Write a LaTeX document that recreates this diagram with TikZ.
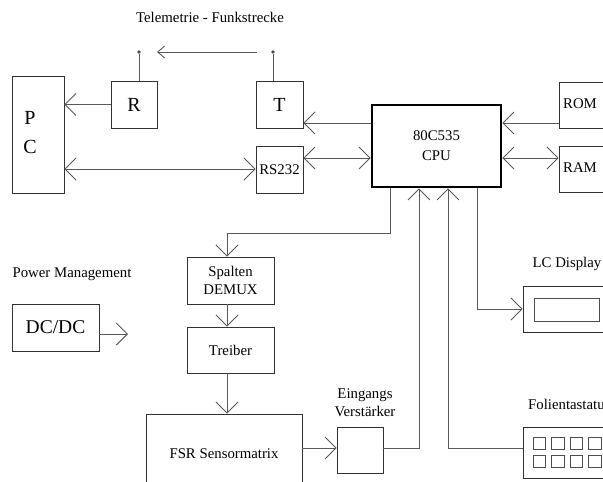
\documentclass[tikz,border=0pt]{standalone}
\usepackage{fontspec}
\setmainfont{Liberation Serif}
\usetikzlibrary{arrows.meta}
\begin{document}
\begin{tikzpicture}[x=1pt,y=-1pt,
  box/.style={draw=black!80,line width=0.9pt,inner sep=0pt,minimum width=#1},
  cpubox/.style={draw=black,line width=2.6pt,inner sep=0pt},
  conn/.style={draw=black!65,line width=0.9pt},
  arr/.style={conn,-{Straight Barb[length=11pt,width=22pt,line width=0.9pt]}},
  darr/.style={conn,{Straight Barb[length=11pt,width=22pt,line width=0.9pt]}-{Straight Barb[length=11pt,width=22pt,line width=0.9pt]}},
  sarr/.style={conn,-{Straight Barb[length=7pt,width=12pt,line width=0.9pt]}},
  txt/.style={font=\fontsize{14.8}{18}\selectfont,inner sep=0pt,align=center},
  big/.style={font=\fontsize{20}{29}\selectfont,inner sep=0pt,align=center},
  dot/.style={circle,fill=black!70,inner sep=0pt,minimum size=3.6pt}]
\clip (0,0) rectangle (603,482);
\fill[white] (0,0) rectangle (603,482);

% title
\node[txt] (tele) at (210,17) {Telemetrie - Funkstrecke};

% boxes
\node[box=52,minimum height=117] (pc) at (38,134.5) {};
\node[big] (pclabel) at (30,133) {P\\C};
\node[box=46,minimum height=47,big] (r) at (134,104.5) {R};
\node[box=47,minimum height=47,big] (t) at (279.5,104.5) {T};
\node[box=47,minimum height=47,txt] (rs) at (279.5,169.5) {RS232};
\node[cpubox,minimum width=129,minimum height=82,txt] (cpu) at (436.5,146) {80C535\\[2pt]CPU};
\node[box=61,minimum height=46] (rom) at (589.5,105) {};
\node[txt] (romlabel) at (580,104) {ROM};
\node[box=61,minimum height=46] (ram) at (589.5,169) {};
\node[txt] (ramlabel) at (580,168) {RAM};

% antennas
\node[dot] (ant1) at (139,52) {};
\node[dot] (ant2) at (273,52) {};
\draw[conn] (ant1) -- (ant1 |- r.north);
\draw[conn] (ant2) -- (ant2 |- t.north);
\coordinate (radiostart) at (257,52);
\coordinate (radioend) at (157,52);
\draw[sarr] (radiostart) -- (radioend);

% left side connections
\draw[arr] (r.west) -- (r.west -| pc.east);
\draw[darr] (pc.east |- 0,169) -- (rs.west |- 0,169);
\draw[arr] (cpu.west |- 0,123) -- (t.east |- 0,123);
\draw[darr] (rs.east |- 0,158) -- (cpu.west |- 0,158);
\draw[arr] (rom.west |- 0,123) -- (cpu.east |- 0,123);
\draw[darr] (cpu.east |- 0,158) -- (ram.west |- 0,158);

% power
\node[txt] (pm) at (72,274) {Power Management};
\node[box=87,minimum height=47,font=\fontsize{19.5}{22}\selectfont] (dc) at (55.5,327.5) {DC/DC};
\coordinate (dcout) at (128,334);
\draw[arr] (dc.east |- dcout) -- (dcout);

% demux chain
\node[box=87,minimum height=47,txt] (demux) at (230.5,280.5) {Spalten\\DEMUX};
\node[box=87,minimum height=46,txt] (treiber) at (230.5,350) {Treiber};
\node[box=156,minimum height=106] (fsr) at (224,467) {};
\node[txt] (fsrlabel) at (224,454) {FSR Sensormatrix};
\draw[arr] (cpu.south -| 390,0) -- (390,233) -- (227,233) -- (227,0 |- demux.north);
\draw[arr] (227,0 |- demux.south) -- (227,0 |- treiber.north);
\draw[arr] (227,0 |- treiber.south) -- (227,0 |- fsr.north);

% amplifier
\node[box=46,minimum height=46] (amp) at (360,450) {};
\node[txt] (amplabel) at (365,403) {Eingangs\\Verstärker};
\draw[arr] (fsr.east |- 0,448) -- (amp.west |- 0,448);
\draw[arr] (amp.east |- 0,448) -- (419,448) -- (419,0 |- cpu.south);

% LC display
\node[box=97,minimum height=46] (lc) at (571.5,309) {};
\node[txt] (lclabel) at (567,264) {LC Display};
\draw[draw=black!70,line width=0.9pt] (534,298) rectangle (599,321);
\draw[arr] (cpu.south -| 477,0) -- (477,309) -- (lc.west);

% keyboard
\node[box=97,minimum height=51] (kb) at (571.5,452.5) {};
\node[txt,anchor=west] (kblabel) at (528,404) {Folientastatur};
\foreach \xx in {533,551.5,570,588.5}{
  \foreach \yy in {437,455}{
    \draw[black!70,line width=0.8pt] (\xx,\yy) rectangle ++(12.5,12.5);
  }
}
\draw[arr] (kb.west |- 0,448) -- (448,448) -- (448,0 |- cpu.south);
\end{tikzpicture}
\end{document}
